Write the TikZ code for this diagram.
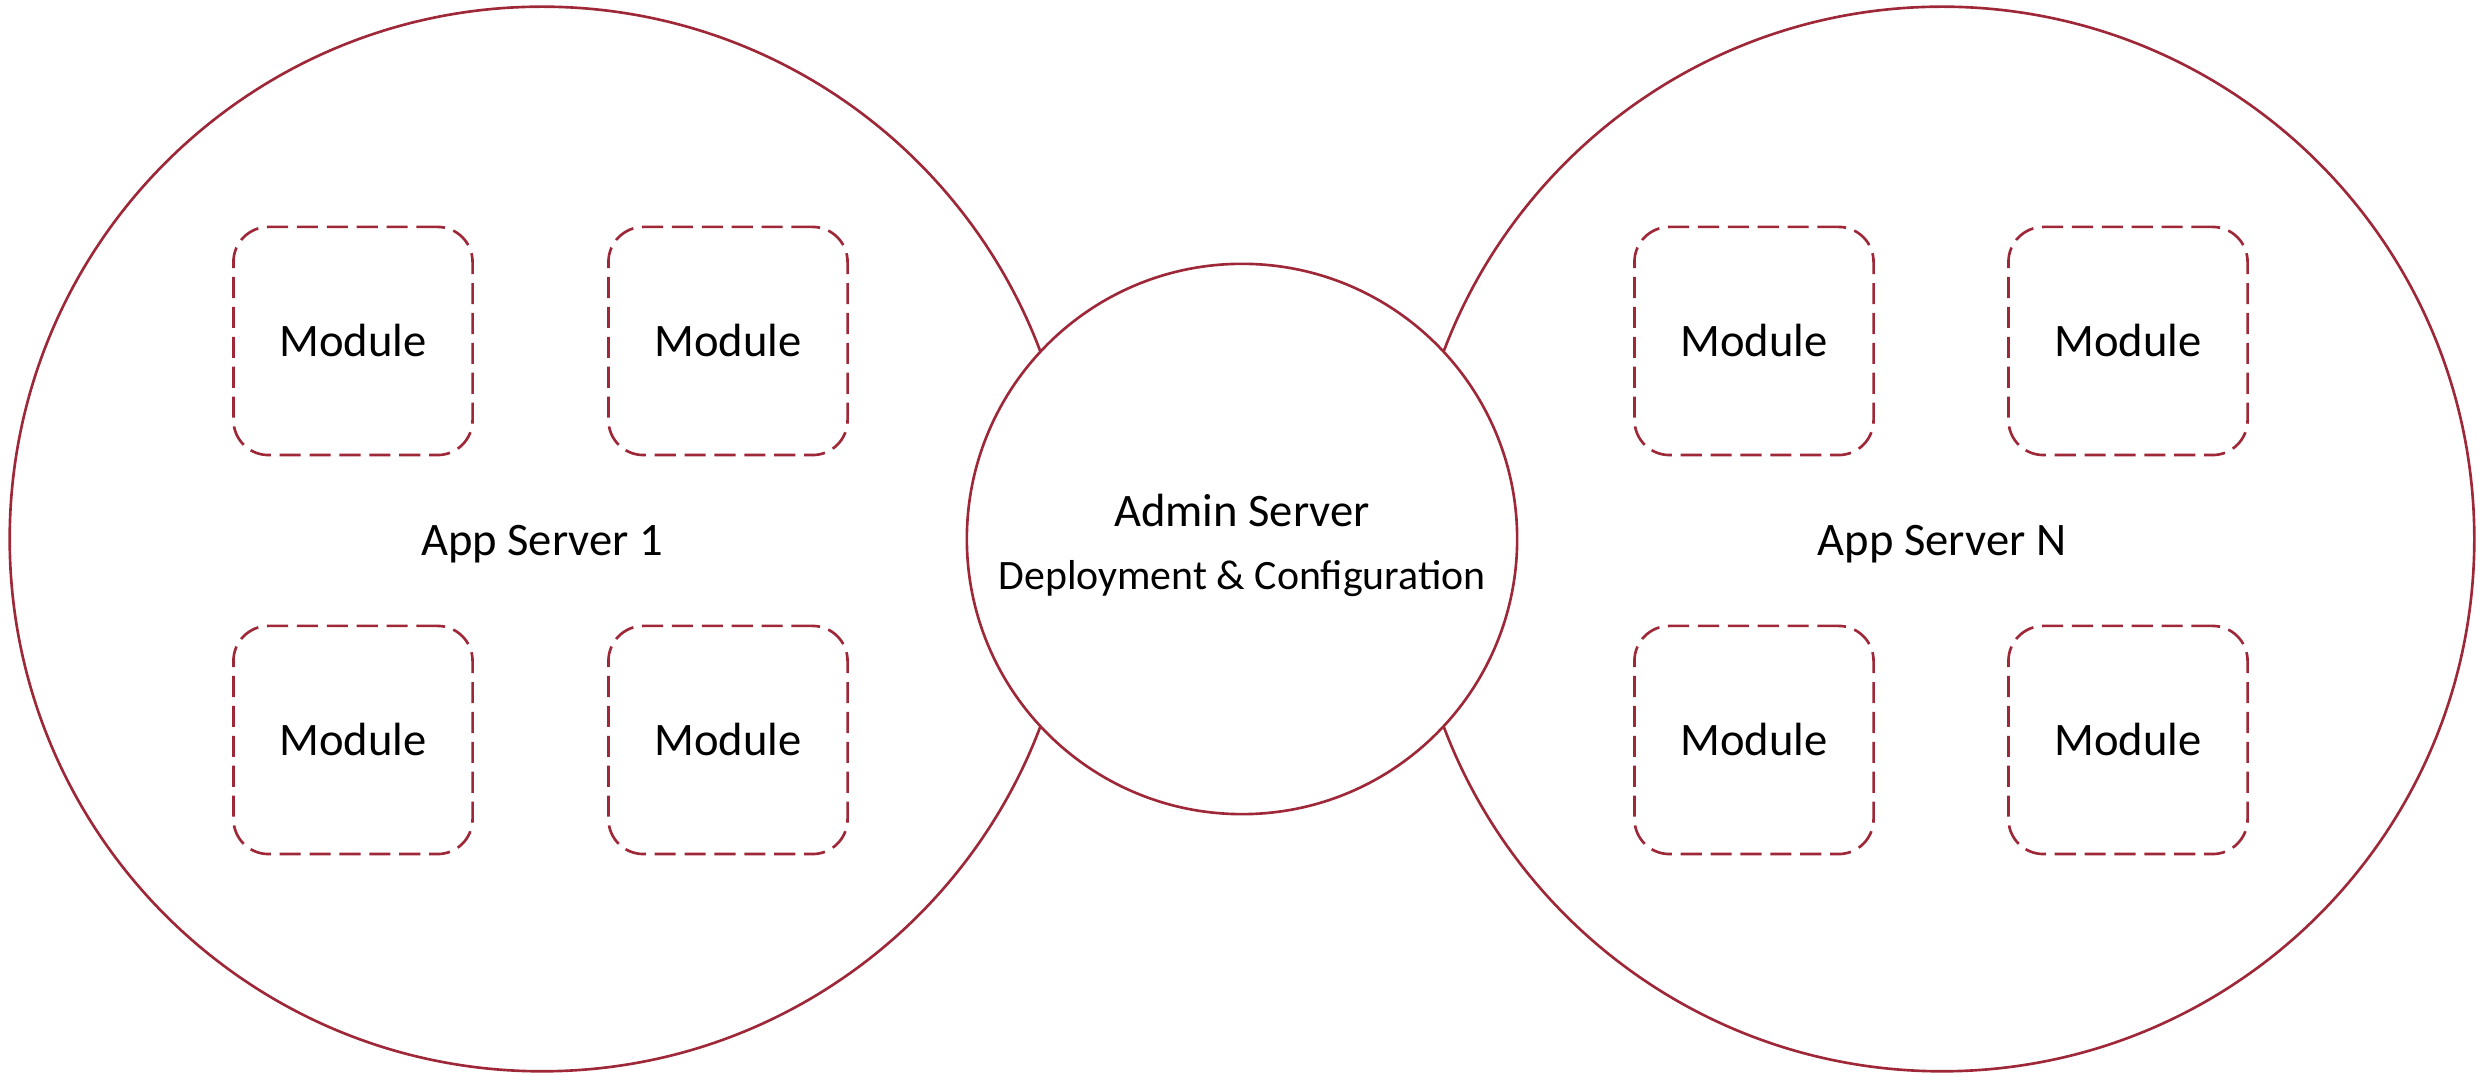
\documentclass[tikz,border=0pt]{standalone}
\usepackage{fontspec}
\setmainfont{Carlito}
\definecolor{srvred}{RGB}{158,39,56}

\begin{document}
\begin{tikzpicture}[x=0.01cm, y=-0.01cm,
    appsrv/.style={circle, draw=srvred, line width=0.75pt, inner sep=0pt, minimum size=10.64cm},
    adminsrv/.style={circle, draw=srvred, fill=white, line width=0.75pt, inner sep=0pt, minimum size=5.5cm},
    modbox/.style={draw=srvred, line width=0.75pt, dash pattern=on 6pt off 2.5pt, rounded corners=0.35cm,
      minimum width=2.39cm, minimum height=2.28cm, inner sep=0pt, font=\fontsize{13.25}{15}\selectfont},
    srvtext/.style={anchor=base, inner sep=0pt, font=\fontsize{13.25}{15}\selectfont},
    subtext/.style={anchor=base, inner sep=0pt, font=\fontsize{11.9}{14}\selectfont}]
  \useasboundingbox (0,0) rectangle (2478,1077);
  \node[appsrv] (app1) at (542,539) {};
  \node[appsrv] (appN) at (1942,539) {};
  \node[adminsrv] (admin) at (1242,539) {};
  \node[srvtext] (admintitle) at (1242,527) {Admin Server};
  \node[subtext] (admintask) at (1242,590) {Deployment \& Configuration};
  \node[srvtext] (app1title) at (542,556) {App Server 1};
  \node[srvtext] (appNtitle) at (1942,556) {App Server N};
  \node[modbox] (m1a) at (353,341) {Module};
  \node[modbox] (m1b) at (728,341) {Module};
  \node[modbox] (m1c) at (353,740) {Module};
  \node[modbox] (m1d) at (728,740) {Module};
  \node[modbox] (mNa) at (1754,341) {Module};
  \node[modbox] (mNb) at (2128,341) {Module};
  \node[modbox] (mNc) at (1754,740) {Module};
  \node[modbox] (mNd) at (2128,740) {Module};
\end{tikzpicture}
\end{document}
